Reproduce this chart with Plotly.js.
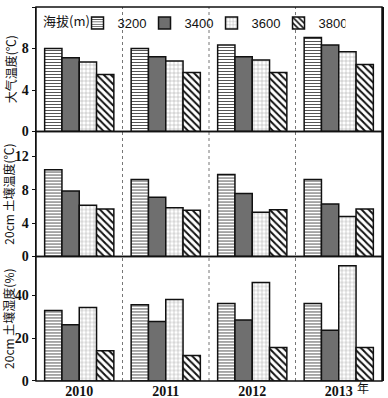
<!DOCTYPE html>
<html><head><meta charset="utf-8">
<script src="https://cdn.plot.ly/plotly-3.0.1.min.js"></script>
<style>html,body{margin:0;padding:0;background:#fff}#c{width:388px;height:398px}</style>
</head><body><div id="c"></div>
<script>
const years = ['2010','2011','2012','2013'];
const altitudes = ['3200','3400','3600','3800'];
// air temperature (°C)
const airTemp = {
  '3200':[8.0, 8.0, 8.35, 9.05],
  '3400':[7.1, 7.2, 7.2, 8.33],
  '3600':[6.7, 6.8, 6.9, 7.7],
  '3800':[5.5, 5.7, 5.7, 6.45]
};
// 20cm soil temperature (°C)
const soilTemp = {
  '3200':[10.4, 9.25, 9.85, 9.25],
  '3400':[7.85, 7.1, 7.55, 6.3],
  '3600':[6.15, 5.85, 5.3, 4.8],
  '3800':[5.7, 5.55, 5.6, 5.7]
};
// 20cm soil moisture (%)
const soilMoist = {
  '3200':[32.8, 35.5, 36.1, 36.1],
  '3400':[26.2, 27.7, 28.4, 23.6],
  '3600':[34.2, 38.0, 45.9, 53.7],
  '3800':[14.1, 11.9, 15.6, 15.6]
};
const yRanges = [[0,12],[0,15],[0,58]];
const yTicks = [[0,4,8,12],[0,4,8,12],[0,20,40]];
const yTitles = ['大气温度(℃)','20cm 土壤温度(℃)','20cm 土壤湿度(%)'];
const legendTitle = '海拔(m)';

const styles = {
  '3200':{color:'white', pattern:{shape:'-', fgcolor:'#555', bgcolor:'white', size:3, solidity:0.35}},
  '3400':{color:'#6f6f6f'},
  '3600':{color:'white', pattern:{shape:'+', fgcolor:'#999', bgcolor:'white', size:4, solidity:0.2}},
  '3800':{color:'white', pattern:{shape:'\\', fgcolor:'#111', bgcolor:'white', size:5, solidity:0.4}}
};
const datasets = [airTemp, soilTemp, soilMoist];
const yaxNames = ['y','y2','y3'];
const traces = [];
datasets.forEach((ds, i) => {
  altitudes.forEach(a => {
    const m = Object.assign({line:{color:'#111', width:1.5}}, styles[a]);
    traces.push({
      type:'bar', x:years, y:ds[a], name:a, yaxis:yaxNames[i], xaxis:'x',
      marker:m, showlegend: i===0, legendgroup:a, hoverinfo:'none'
    });
  });
});

const serif = 'Liberation Serif, Times New Roman, serif';
const cjk = 'Noto Sans CJK SC, sans-serif';
const doms = [[0.667,1],[0.333,0.667],[0,0.333]];
const layout = {
  width:388, height:398,
  margin:{l:36, r:6, t:7, b:17},
  paper_bgcolor:'white', plot_bgcolor:'white',
  barmode:'group', bargap:0.2, bargroupgap:0,
  font:{family:serif, color:'#111', size:13},
  showlegend:true,
  legend:{orientation:'h', x:0.12, y:0.997, xanchor:'left', yanchor:'top',
    bgcolor:'rgba(0,0,0,0)', font:{family:'Liberation Sans, Arial, sans-serif', size:13, color:'#111'},
    traceorder:'normal', itemwidth:30, entrywidth:22, entrywidthmode:'pixels', tracegroupgap:0},
  xaxis:{type:'category', anchor:'y3', domain:[0,1], range:[-0.5,3.5], showline:false, ticks:'', showgrid:false,
    zeroline:false, tickfont:{family:serif, size:14, weight:'bold', color:'#111'}, ticklen:0},
  shapes:[], annotations:[]
};
yaxNames.forEach((n, i) => {
  const key = i===0 ? 'yaxis' : 'yaxis'+(i+1);
  layout[key] = {
    domain:doms[i], range:yRanges[i], tickvals:yTicks[i], ticktext:yTicks[i].map(String),
    anchor:'x', showgrid:false, zeroline:false, showline:true, linecolor:'#111', linewidth:1.5,
    mirror:true, ticks:'outside', ticklen:3, tickcolor:'#111',
    tickfont:{family:serif, size:14, weight:'bold', color:'#111'},
    title:{text:yTitles[i], font:{family:cjk, size:12, color:'#111'}, standoff:2}
  };
  layout.shapes.push({type:'rect', xref:'paper', yref:n+' domain', x0:0, x1:1, y0:0, y1:1,
    line:{color:'#111', width:1.5}, layer:'above'});
});
// dotted separators between years
[0.5,1.5,2.5].forEach(v => {
  layout.shapes.push({type:'line', xref:'x', yref:'paper', x0:v, x1:v, y0:0, y1:1,
    line:{color:'#777', width:1, dash:'dot'}, layer:'below'});
});
layout.annotations.push({text:legendTitle, xref:'paper', yref:'paper', x:0.015, y:0.995,
  xanchor:'left', yanchor:'top', showarrow:false, font:{family:cjk, size:13, color:'#111'}});
layout.annotations.push({text:'年', xref:'x', yref:'paper', x:3.2, y:0, yshift:3,
  xanchor:'left', yanchor:'top', showarrow:false, borderpad:0, font:{family:cjk, size:12, color:'#111'}});
Plotly.newPlot('c', traces, layout, {displayModeBar:false, staticPlot:true});
</script></body></html>
